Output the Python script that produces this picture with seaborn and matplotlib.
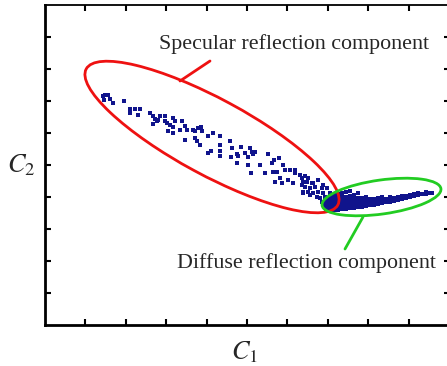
import matplotlib
matplotlib.use("Agg")
import matplotlib.pyplot as plt
from matplotlib.patches import Ellipse
import seaborn as sns
import pandas as pd
import numpy as np

# Data (arbitrary C1 / C2 units)
spec_c1 = [58, 60, 63, 65, 59, 68, 79, 85, 90, 95, 85, 93, 105, 108, 110, 112, 113, 115, 120, 120,
           122, 108, 125, 128, 130, 128, 123, 135, 137, 128, 140, 142, 140, 148, 150, 153, 156, 157,
           150, 152, 155, 163, 168, 175, 163, 166, 175, 175, 175, 185, 187, 192, 193, 186, 196, 200,
           203, 205, 207, 210, 208, 203, 192, 206, 215, 220, 223, 227, 229, 234, 238, 230, 232, 228,
           240, 245, 250, 235, 230, 237, 243, 248, 257, 258, 258, 250, 255, 260, 263, 262, 267, 257,
           260, 265, 270, 263, 258, 268, 273, 277, 278, 272, 265, 275, 280, 282, 285, 285, 268, 273,
           278, 282, 280, 277, 287]
spec_c2 = [229, 230, 230, 226, 225, 222, 224, 216, 216, 216, 212, 210, 212, 209, 206, 204, 205, 209,
           209, 204, 202, 201, 200, 207, 204, 198, 194, 195, 204, 192, 199, 195, 185, 195, 194, 197,
           198, 194, 187, 184, 180, 189, 192, 189, 172, 174, 180, 174, 169, 184, 177, 171, 169, 168,
           178, 172, 168, 177, 173, 173, 171, 160, 162, 152, 160, 152, 171, 162, 165, 167, 160, 153,
           153, 153, 155, 155, 155, 147, 143, 142, 145, 142, 147, 143, 133, 152, 150, 149, 147, 143,
           142, 140, 138, 137, 138, 133, 132, 132, 133, 137, 132, 128, 130, 127, 128, 125, 132, 127,
           142, 145, 140, 137, 120, 123, 123]

diff_c1 = [281, 281, 281, 281,
           285, 285, 285, 285, 285, 285,
           289, 289, 289, 289, 289, 289,
           293, 293, 293, 293, 293, 293,
           297, 297, 297, 297, 297, 297,
           301, 301, 301, 301, 301, 301,
           305, 305, 305, 305, 305, 305,
           309, 309, 309, 309, 309,
           313, 313, 313, 313, 313,
           317, 317, 317, 317,
           321, 321, 321, 321,
           325, 325, 325,
           329, 329, 329,
           333, 333, 333,
           337, 337, 337,
           341, 341,
           345, 345, 345,
           349, 349,
           353, 353,
           357, 357,
           361, 361,
           365, 365,
           369, 369,
           373, 373,
           377,
           381, 381,
           385,
           387]
diff_c2 = [114, 117, 120, 123,
           114, 117, 120, 123, 126, 129,
           115, 118, 121, 124, 127, 130,
           115, 118, 121, 124, 127, 131,
           116, 119, 122, 125, 128, 132,
           116, 119, 122, 125, 128, 133,
           117, 120, 123, 126, 129, 134,
           117, 120, 123, 126, 130,
           118, 121, 124, 127, 132,
           118, 121, 124, 127,
           119, 122, 125, 128,
           120, 123, 126,
           120, 123, 126,
           121, 124, 127,
           122, 125, 128,
           123, 126,
           123, 126, 128,
           124, 127,
           125, 128,
           126, 129,
           127, 129,
           128, 130,
           129, 131,
           130, 132,
           131,
           131, 133,
           132,
           132]

W, H = 447, 366
fig = plt.figure(figsize=(W / 100, H / 100), dpi=100)
ax = fig.add_axes([45 / W, 1 - 325 / H, 405 / W, 320 / H])
sns.set_style("white")
plt.rcParams["mathtext.fontset"] = "stix"

df_s = pd.DataFrame({"C1": spec_c1, "C2": spec_c2})
df_d = pd.DataFrame({"C1": diff_c1, "C2": diff_c2})
navy = "#10148c"
sns.scatterplot(data=df_s, x="C1", y="C2", ax=ax, marker="s", s=6.5, color=navy, linewidth=0)
sns.scatterplot(data=df_d, x="C1", y="C2", ax=ax, marker="s", s=9, color=navy, linewidth=0)

ax.set_xlim(0, 405)
ax.set_ylim(0, 320)
ax.set_xticks(np.arange(1, 10) * 40.4)
ax.set_yticks(np.arange(1, 10) * 32)
ax.set_xticklabels([])
ax.set_yticklabels([])
ax.set_xlabel("")
ax.set_ylabel("")
ax.tick_params(direction="in", length=4, width=1.5, top=True, right=True, bottom=True, left=True,
               color="black")
for side in ["left", "bottom"]:
    ax.spines[side].set_linewidth(2)
    ax.spines[side].set_color("black")
for side in ["top", "right"]:
    ax.spines[side].set_linewidth(1.3)
    ax.spines[side].set_color("black")

ax.add_patch(Ellipse((167, 188), 286, 76, angle=-28.4, fill=False, edgecolor="#ee1111", linewidth=2))
ax.add_patch(Ellipse((336.5, 128), 120, 34, angle=8, fill=False, edgecolor="#22cc22", linewidth=2))
ax.plot([180 - 45, 210 - 45], [325 - 81, 325 - 61], color="#ee1111", linewidth=2)
ax.plot([363 - 45, 345 - 45], [325 - 217, 325 - 249], color="#22cc22", linewidth=2)

serif = "Liberation Serif"
fig.text(294 / W, 1 - 44 / H, "Specular reflection component", ha="center", va="center",
         fontsize=15.8, family=serif)
fig.text(306 / W, 1 - 263 / H, "Diffuse reflection component", ha="center", va="center",
         fontsize=15.8, family=serif)
fig.text(21 / W, 1 - 165 / H, r"$C_{\mathrm{2}}$", ha="center", va="center", fontsize=19)
fig.text(245 / W, 1 - 352 / H, r"$C_{\mathrm{1}}$", ha="center", va="center", fontsize=19)

fig.savefig("out.png", dpi=100)
